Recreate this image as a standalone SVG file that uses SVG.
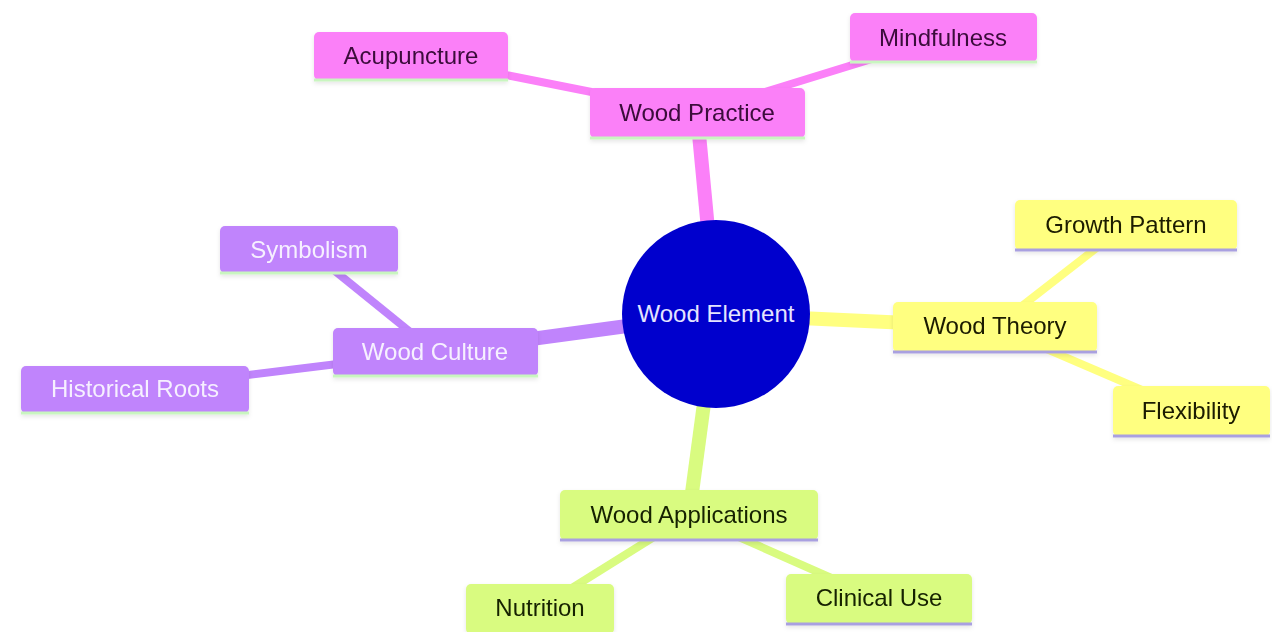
<svg xmlns="http://www.w3.org/2000/svg" width="1272" height="632" viewBox="0 0 1272 632">
<defs>
<filter id="sh" x="-10%" y="-20%" width="120%" height="150%">
<feDropShadow dx="0" dy="2" stdDeviation="2" flood-color="#000" flood-opacity="0.1"/>
</filter>
</defs>
<style>
text{font-family:"Liberation Sans",Arial,sans-serif;font-size:24px;text-anchor:middle;dominant-baseline:central}
.e0{stroke:#fb80f8;fill:none;stroke-linecap:butt}
.e1{stroke:#c084fc;fill:none}
.e2{stroke:#ffff80;fill:none}
.e3{stroke:#d9fb80;fill:none}
.main{stroke-width:14}
.sub{stroke-width:8}
.n0{fill:#fb80f8}
.n1{fill:#c084fc}
.n2{fill:#ffff80}
.n3{fill:#d9fb80}
.t0{fill:#3a0a3a}
.t1{fill:#f6f0ff}
.t2{fill:#1a1a00}
.t3{fill:#142000}
.l0,.l1{stroke:#c9f5c0;stroke-width:3}
.l2,.l3{stroke:#a9a0e0;stroke-width:3}
</style>
<rect width="1272" height="632" fill="#ffffff"/>
<g id="connectors">
<line class="e0 main" x1="716" y1="314" x2="697" y2="113"/>
<line class="e1 main" x1="716" y1="314" x2="435" y2="352"/>
<line class="e2 main" x1="716" y1="314" x2="995" y2="327"/>
<line class="e3 main" x1="716" y1="314" x2="689" y2="515"/>
<line class="e0 sub" x1="411" y1="56" x2="697" y2="113"/>
<line class="e0 sub" x1="943" y1="37" x2="697" y2="113"/>
<line class="e1 sub" x1="309" y1="250" x2="435" y2="352"/>
<line class="e1 sub" x1="135" y1="389" x2="435" y2="352"/>
<line class="e2 sub" x1="1126" y1="225" x2="995" y2="327"/>
<line class="e2 sub" x1="1191" y1="411" x2="995" y2="327"/>
<line class="e3 sub" x1="540" y1="608" x2="689" y2="515"/>
<line class="e3 sub" x1="879" y1="599" x2="689" y2="515"/>
</g>
<g id="root">
<circle cx="716" cy="314" r="94" fill="#0000cd"/>
<text x="716" y="313" fill="#e4e4ff">Wood Element</text>
</g>
<g id="wood-practice" filter="url(#sh)">
<rect class="n0" x="590" y="88" width="215" height="50" rx="5"/>
<line class="l0" x1="590" y1="138" x2="805" y2="138"/>
<text class="t0" x="697" y="112">Wood Practice</text>
</g>
<g id="acupuncture" filter="url(#sh)">
<rect class="n0" x="314" y="32" width="194" height="48" rx="5"/>
<line class="l0" x1="314" y1="80" x2="508" y2="80"/>
<text class="t0" x="411" y="55">Acupuncture</text>
</g>
<g id="mindfulness" filter="url(#sh)">
<rect class="n0" x="850" y="13" width="187" height="49" rx="5"/>
<line class="l0" x1="850" y1="62" x2="1037" y2="62"/>
<text class="t0" x="943" y="37">Mindfulness</text>
</g>
<g id="wood-culture" filter="url(#sh)">
<rect class="n1" x="333" y="328" width="205" height="48" rx="5"/>
<line class="l1" x1="333" y1="376" x2="538" y2="376"/>
<text class="t1" x="435" y="351">Wood Culture</text>
</g>
<g id="symbolism" filter="url(#sh)">
<rect class="n1" x="220" y="226" width="178" height="47" rx="5"/>
<line class="l1" x1="220" y1="273" x2="398" y2="273"/>
<text class="t1" x="309" y="249">Symbolism</text>
</g>
<g id="historical-roots" filter="url(#sh)">
<rect class="n1" x="21" y="366" width="228" height="47" rx="5"/>
<line class="l1" x1="21" y1="413" x2="249" y2="413"/>
<text class="t1" x="135" y="388">Historical Roots</text>
</g>
<g id="wood-theory" filter="url(#sh)">
<rect class="n2" x="893" y="302" width="204" height="50" rx="5"/>
<line class="l2" x1="893" y1="352" x2="1097" y2="352"/>
<text class="t2" x="995" y="325">Wood Theory</text>
</g>
<g id="growth-pattern" filter="url(#sh)">
<rect class="n2" x="1015" y="200" width="222" height="50" rx="5"/>
<line class="l2" x1="1015" y1="250" x2="1237" y2="250"/>
<text class="t2" x="1126" y="224">Growth Pattern</text>
</g>
<g id="flexibility" filter="url(#sh)">
<rect class="n2" x="1113" y="386" width="157" height="50" rx="5"/>
<line class="l2" x1="1113" y1="436" x2="1270" y2="436"/>
<text class="t2" x="1191" y="410">Flexibility</text>
</g>
<g id="wood-applications" filter="url(#sh)">
<rect class="n3" x="560" y="490" width="258" height="50" rx="5"/>
<line class="l3" x1="560" y1="540" x2="818" y2="540"/>
<text class="t3" x="689" y="514">Wood Applications</text>
</g>
<g id="nutrition" filter="url(#sh)">
<rect class="n3" x="466" y="584" width="148" height="50" rx="5"/>
<text class="t3" x="540" y="607">Nutrition</text>
</g>
<g id="clinical-use" filter="url(#sh)">
<rect class="n3" x="786" y="574" width="186" height="50" rx="5"/>
<line class="l3" x1="786" y1="624" x2="972" y2="624"/>
<text class="t3" x="879" y="597">Clinical Use</text>
</g>
</svg>
